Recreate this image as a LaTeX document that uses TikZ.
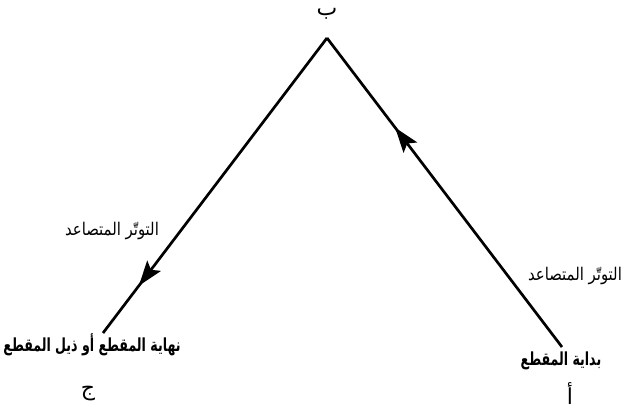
\documentclass[tikz,border=0pt]{standalone}
\usepackage{fontspec}
\usetikzlibrary{arrows.meta,decorations.markings}
\TeXXeTstate=1
\newfontfamily\arabicfont[Script=Arabic]{DejaVu Sans}
\newfontfamily\arabicnarrow[Script=Arabic,FakeStretch=0.85]{DejaVu Sans}
\newfontfamily\arabicboldfont[Script=Arabic,FakeStretch=0.7]{DejaVu Sans Bold}
\tikzset{
  lbl/.style={font=\arabicnarrow\fontsize{17.5}{20}\selectfont, inner sep=0pt},
  boldlbl/.style={font=\arabicboldfont\fontsize{18}{20}\selectfont, inner sep=0pt},
  letter/.style={font=\arabicfont\fontsize{22}{24}\selectfont, inner sep=0pt},
  mline/.style={line width=2.7pt, black},
  midarrow/.style={postaction={decorate}, decoration={markings,
     mark=at position #1 with {\arrow{Stealth[length=25pt,width=17pt,inset=5pt]}}}}
}
\begin{document}
\begin{tikzpicture}[x=1pt,y=-1pt]
\useasboundingbox (0,0) rectangle (625,410);
\coordinate (B) at (327,38);
\coordinate (A) at (562,347);
\coordinate (C) at (103,333);
\node[letter] (lb) at (327,14) {\beginR ب\endR};
\node[letter] (la) at (570,394) {\beginR أ\endR};
\node[letter] (lc) at (88,394) {\beginR ج\endR};
\node[boldlbl] (ta) at (561,361) {\beginR بداية المقطع\endR};
\node[boldlbl] (tc) at (92,345) {\beginR نهاية المقطع أو ذيل المقطع\endR};
\node[lbl] (ll) at (112,231) {\beginR التوتّر المتصاعد\endR};
\node[lbl] (lr) at (575,276) {\beginR التوتّر المتصاعد\endR};
\draw[mline, midarrow=0.71] (A) -- (B);
\draw[mline, midarrow=0.84] (B) -- (C);
\end{tikzpicture}
\end{document}
